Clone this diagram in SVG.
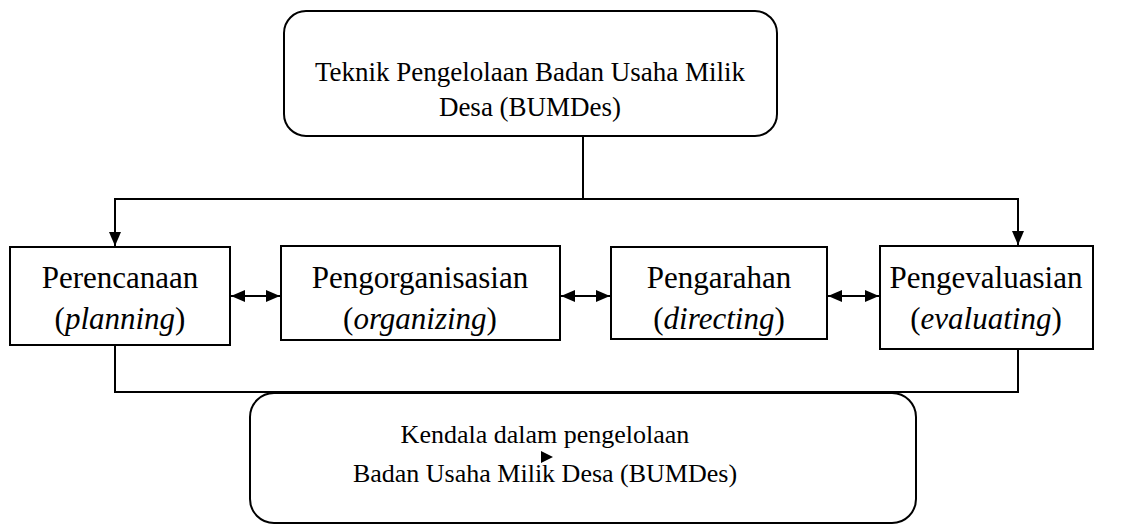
<svg xmlns="http://www.w3.org/2000/svg" width="1124" height="525" viewBox="0 0 1124 525">
<style>
.box{fill:#fff;stroke:#000;stroke-width:2}
.ln{fill:none;stroke:#000;stroke-width:2}
.t{font-family:'Liberation Serif','Times New Roman',Times,'DejaVu Serif',serif;font-size:27px;fill:#000;text-anchor:middle}
.b{font-size:31px}
.k{font-size:26px}
.i{font-style:italic}
</style>
<defs>
<marker id="ah" viewBox="0 0 14 12" refX="14" refY="6" markerWidth="14" markerHeight="12" orient="auto-start-reverse" markerUnits="userSpaceOnUse">
<path d="M0,0 L14,6 L0,12 z" fill="#000"/>
</marker>
</defs>
<rect width="1124" height="525" fill="#fff"/>
<g id="connectors">
<path class="ln" d="M583,136 V199"/>
<path class="ln" d="M583,199 H115 V246" marker-end="url(#ah)"/>
<path class="ln" d="M583,199 H1018 V245" marker-end="url(#ah)"/>
<path class="ln" d="M231,296 H280" marker-start="url(#ah)" marker-end="url(#ah)"/>
<path class="ln" d="M561,296 H610" marker-start="url(#ah)" marker-end="url(#ah)"/>
<path class="ln" d="M828,296 H879" marker-start="url(#ah)" marker-end="url(#ah)"/>
<path class="ln" d="M115,346 V392 H1018 V349"/>
</g>
<g id="n-top">
<rect class="box" x="284" y="11" width="493" height="125" rx="22"/>
<text class="t" x="530" y="81">Teknik Pengelolaan Badan Usaha Milik</text>
<text class="t" x="530" y="116">Desa (BUMDes)</text>
</g>
<g id="n-perencanaan">
<rect class="box" x="10" y="247" width="220" height="98"/>
<text class="t b" x="120" y="288">Perencanaan</text>
<text class="t b" x="120" y="329">(<tspan class="i">planning</tspan>)</text>
</g>
<g id="n-pengorganisasian">
<rect class="box" x="281" y="246" width="279" height="94"/>
<text class="t b" x="420" y="288">Pengorganisasian</text>
<text class="t b" x="420" y="329">(<tspan class="i">organizing</tspan>)</text>
</g>
<g id="n-pengarahan">
<rect class="box" x="611" y="247" width="216" height="92"/>
<text class="t b" x="719" y="288">Pengarahan</text>
<text class="t b" x="719" y="329">(<tspan class="i">directing</tspan>)</text>
</g>
<g id="n-pengevaluasian">
<rect class="box" x="880" y="246" width="213" height="103"/>
<text class="t b" x="986" y="288">Pengevaluasian</text>
<text class="t b" x="986" y="329">(<tspan class="i">evaluating</tspan>)</text>
</g>
<g id="n-kendala">
<rect class="box" x="250" y="393" width="666" height="130" rx="24"/>
<text class="t k" x="545" y="443">Kendala dalam pengelolaan</text>
<text class="t k" x="545" y="482">Badan Usaha Milik Desa (BUMDes)</text>
<path d="M541,451 L553,457 L541,463 z" fill="#000"/>
</g>
</svg>
